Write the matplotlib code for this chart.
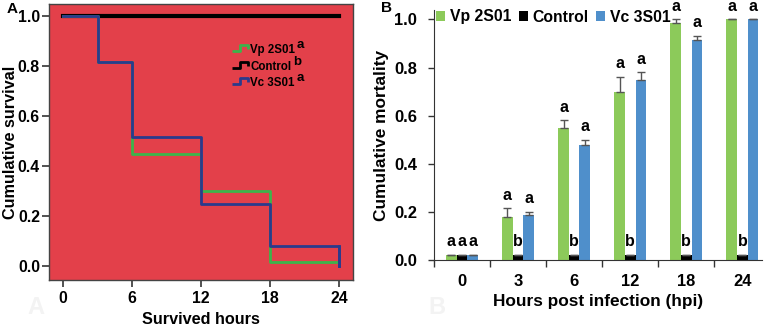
import numpy as np
import matplotlib.pyplot as plt
from matplotlib.path import Path
from matplotlib.lines import Line2D

plt.rcParams['font.family'] = ['Liberation Sans', 'DejaVu Sans']
plt.rcParams['font.weight'] = 'bold'

# panel A: survival steps
surv_hours = [0, 3, 6, 12, 18, 24]
surv_vp = [1.0, 0.815, 0.45, 0.30, 0.015, 0.015]
surv_vc = [1.0, 0.815, 0.515, 0.25, 0.08, 0.0]
surv_ctrl = [1.0, 1.0, 1.0, 1.0, 1.0, 1.0]
surv_names = ['Vp 2S01', 'Control', 'Vc 3S01']
surv_sig = ['a', 'b', 'a']

# panel B: cumulative mortality
hpi = ['0', '3', '6', '12', '18', '24']
mort_vp = [0.02, 0.18, 0.55, 0.70, 0.985, 1.0]
err_vp = [0.0, 0.035, 0.03, 0.06, 0.015, 0.0]
mort_ctrl = [0.02, 0.02, 0.02, 0.02, 0.02, 0.02]
err_ctrl = [0.0, 0.0, 0.0, 0.0, 0.0, 0.0]
mort_vc = [0.02, 0.185, 0.48, 0.75, 0.915, 1.0]
err_vc = [0.0, 0.015, 0.02, 0.03, 0.018, 0.0]
sig_vp = ['a', 'a', 'a', 'a', 'a', 'a']
sig_ctrl = ['a', 'b', 'b', 'b', 'b', 'b']
sig_vc = ['a', 'a', 'a', 'a', 'a', 'a']

GREEN_A = '#3cb44b'
BLUE_A = '#2b3a8c'
GREEN = '#8cca5a'
BLUE = '#4f8fcb'

W, H = 774, 327
fig = plt.figure(figsize=(W / 100, H / 100), dpi=100)

# ---------------- panel A
ax1 = fig.add_axes([49 / W, 1 - 280 / H, 304 / W, 276 / H])
ax1.set_facecolor('#e3404a')
ax1.step(surv_hours, surv_ctrl, where='post', color='black', lw=3, zorder=2)
ax1.step(surv_hours, surv_vp, where='post', color=GREEN_A, lw=2, zorder=3)
ax1.step(surv_hours, surv_vc, where='post', color=BLUE_A, lw=2, zorder=4)
# final drop of Vc at 24 h
ax1.plot([24, 24], [surv_vc[-2], surv_vc[-1]], color=BLUE_A, lw=2, zorder=4)
ax1.set_xlim(-1.22, 25.22)
ax1.set_ylim(-0.056, 1.049)
ax1.set_xticks([0, 6, 12, 18, 24])
ax1.set_yticks(np.arange(0, 1.01, 0.2))
ax1.yaxis.set_major_formatter(plt.FormatStrFormatter('%.1f'))
ax1.tick_params(labelsize=11.4, length=5, width=1.2, color='#333333', pad=1.5)
ax1.tick_params(axis='x', pad=3)
for s in ax1.spines.values():
    s.set_color('#444444')
    s.set_linewidth(1)
ax1.set_xlabel('Survived hours', fontsize=11.7, fontweight='bold')
ax1.set_ylabel('Cumulative survival', fontsize=11.7, fontweight='bold')
ax1.xaxis.set_label_coords(0.5, (280 - 312) / 276)
ax1.yaxis.set_label_coords((18 - 49) / 304, 0.5)

step_marker = Path([(-1, -0.3), (0, -0.3), (0, 0.5), (1, 0.5), (1, 0.0)],
                   [Path.MOVETO, Path.LINETO, Path.LINETO, Path.LINETO, Path.LINETO])
handles = [Line2D([], [], linestyle='none', marker=step_marker, markersize=11,
                  markeredgewidth=2, fillstyle='none', markeredgecolor=c)
           for c in [GREEN_A, 'black', BLUE_A]]
leg1 = ax1.legend(handles, surv_names, loc='upper left', bbox_to_anchor=(0.59, 0.875),
                  frameon=False, fontsize=8.3, handlelength=1.0, handletextpad=0.4,
                  labelspacing=0.38, borderpad=0)

fig.text(36 / W, 1 - 307 / H, 'A', fontsize=17, color='#f3f3f3',
         ha='center', va='center', fontweight='bold')
fig.text(7 / W, 1 - 9 / H, 'A', fontsize=11, fontweight='bold', ha='left', va='center')

# ---------------- panel B
ax2 = fig.add_axes([434 / W, 1 - 260 / H, 328 / W, 250 / H])
x = np.arange(len(hpi))
w = 0.19
series = [(mort_vp, err_vp, GREEN, 'Vp 2S01', sig_vp),
          (mort_ctrl, err_ctrl, 'black', 'Control', sig_ctrl),
          (mort_vc, err_vc, BLUE, 'Vc 3S01', sig_vc)]
for i, (vals, errs, col, name, sig) in enumerate(series):
    pos = x + (i - 1) * w
    ax2.bar(pos, vals, w, color=col, label=name, zorder=2)
    ax2.errorbar(pos, vals, yerr=[np.zeros(len(errs)), errs], fmt='none',
                 ecolor='#555555', elinewidth=1, capsize=3, zorder=3)
    for p, v, e, s in zip(pos, vals, errs, sig):
        ax2.text(p, v + e + 0.055, s, ha='center', va='center', fontsize=11.5,
                 fontweight='bold', clip_on=False)

ax2.set_xlim(-0.5, 5.35)
ax2.set_ylim(0, 1.039)
ax2.set_yticks(np.arange(0, 1.01, 0.2))
ax2.yaxis.set_major_formatter(plt.FormatStrFormatter('%.1f'))
ax2.set_xticks(np.arange(-0.5, 5.0, 1.0))
ax2.set_xticklabels([])
ax2.set_xticks(x, minor=True)
ax2.set_xticklabels(hpi, minor=True)
ax2.tick_params(axis='x', which='major', length=5, width=1, color='#333333')
ax2.tick_params(axis='x', which='minor', length=0, labelsize=11.9, pad=10)
ax2.tick_params(axis='y', labelsize=11.9, length=4, width=1, color='#333333', pad=8)
for s in ['top', 'right']:
    ax2.spines[s].set_visible(False)
for s in ['left', 'bottom']:
    ax2.spines[s].set_color('#333333')
ax2.set_xlabel('Hours post infection (hpi)', fontsize=12.4, fontweight='bold')
ax2.set_ylabel('Cumulative mortality', fontsize=12.4, fontweight='bold')
ax2.xaxis.set_label_coords(0.5, (260 - 294) / 250)
ax2.yaxis.set_label_coords((389 - 434) / 328, 0.5)
ax2.legend(loc='center left', bbox_to_anchor=(436 / W, 1 - 17 / H),
           bbox_transform=fig.transFigure, ncol=3, frameon=False, fontsize=11.3,
           handlelength=0.6, handleheight=0.6, handletextpad=0.3,
           columnspacing=0.45, borderpad=0, borderaxespad=0)

fig.text(437 / W, 1 - 307 / H, 'B', fontsize=17, color='#f3f3f3',
         ha='center', va='center', fontweight='bold')
fig.text(381 / W, 1 - 8 / H, 'B', fontsize=11, fontweight='bold', ha='left', va='center')

# superscript letters after the survival legend labels
fig.canvas.draw()
for t, s in zip(leg1.get_texts(), surv_sig):
    bb = t.get_window_extent()
    fig.text((bb.x1 + 1.5) / W, (bb.y1 - 1) / H, s, fontsize=9.5,
             fontweight='bold', ha='left', va='center')

fig.savefig('out.png', dpi=100)
